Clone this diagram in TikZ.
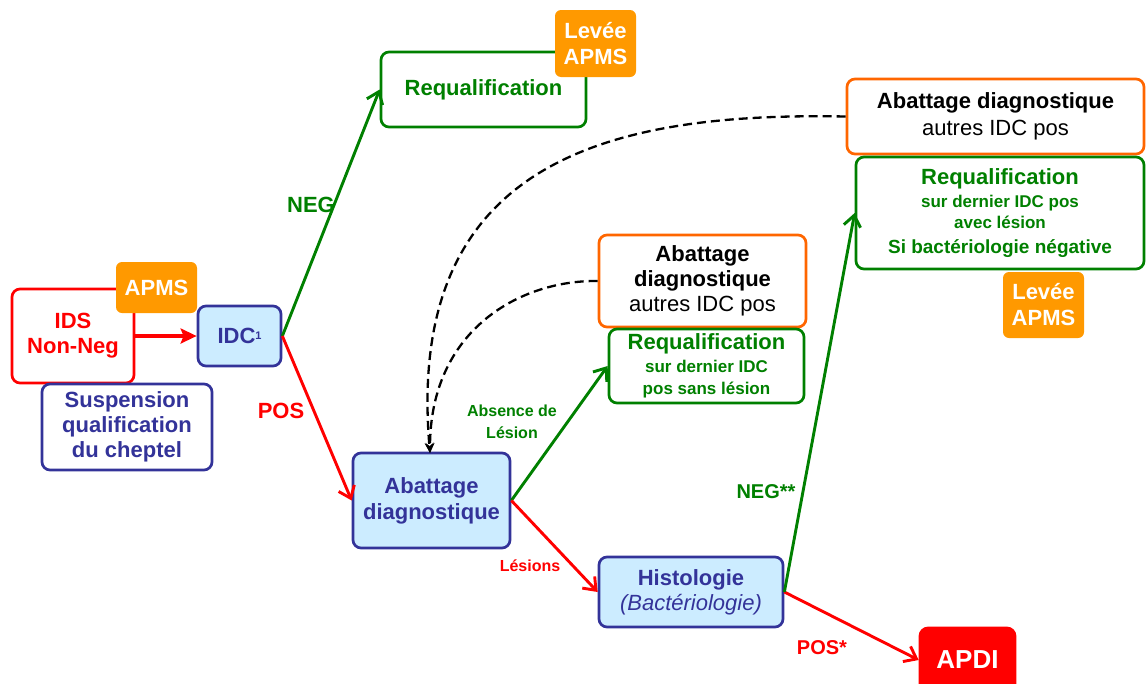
\documentclass[tikz,border=0pt]{standalone}
\usepackage{fontspec}
\setmainfont{Liberation Sans}
\usepackage{tikz}
\usetikzlibrary{arrows.meta}
\definecolor{grn}{HTML}{008000}
\definecolor{rd}{HTML}{FF0000}
\definecolor{blu}{HTML}{333399}
\definecolor{lblu}{HTML}{CCECFF}
\definecolor{org}{HTML}{FF9900}
\definecolor{orgline}{HTML}{FF6600}
\newcommand{\fbig}{\fontsize{22}{25}\selectfont}
\newcommand{\fsmall}{\fontsize{17}{20}\selectfont}
\newcommand{\fmid}{\fontsize{19}{22}\selectfont}

\begin{document}
\begin{tikzpicture}[
  x=1pt, y=-1pt,
  font=\bfseries\fbig,
  size/.style 2 args={minimum width=#1, minimum height=#2},
  box/.style={draw, rounded corners=8pt, line width=2.7pt, align=center, inner sep=0pt, fill=white},
  bluebox/.style={box, draw=blu, fill=lblu, text=blu},
  greenbox/.style={box, draw=grn, text=grn},
  orgbox/.style={box, draw=orgline, text=black},
  tag/.style={fill=org, rounded corners=6pt, text=white, align=center, inner sep=0pt},
  arr/.style={line width=2.9pt, -{Straight Barb[length=11pt, width=17pt, line width=2.9pt]}},
  backarr/.style={line width=2.3pt, dash pattern=on 9pt off 5pt, -{Stealth[length=10pt, width=9pt]}},
  lab/.style={align=center, inner sep=1pt},
]
\useasboundingbox (0,0) rectangle (1146,683);
% left part
\node[box, draw=rd, text=rd, size={122}{94}] (ids) at (73,336) {IDS\\Non-Neg};
\node[tag, size={81}{51}] (apms) at (156.5,287.5) {APMS};
\node[box, draw=blu, text=blu, size={170}{86}] (susp) at (127,427) {Suspension\\qualification\\du cheptel};
\node[bluebox, size={83}{60}] (idc) at (239.5,336) {IDC\raisebox{4pt}{\fontsize{11}{11}\selectfont 1}};
\draw[rd, line width=4pt, -{Stealth[length=16pt, width=15pt, inset=3pt]}] (ids) -- (idc);
% first test
\node[greenbox, size={205}{75}] (req1) at (483.5,89.5) {Requalification};
\node[tag, size={81}{67}] (lev1) at (595.5,43.5) {Lev\'ee\\[1pt]APMS};
\node[bluebox, size={157}{95}] (abd) at (431.5,500.5) {Abattage\\[1pt]diagnostique};
\draw[arr, grn] (idc.east) -- (req1.west);
\draw[arr, rd] (idc.east) -- (abd.west);
\node[lab, text=grn] (negA) at (311,205) {NEG};
\node[lab, text=rd] (posA) at (281,411) {POS};
% slaughter
\node[orgbox, size={207}{92}] (abo1) at (702.5,281) {Abattage\\diagnostique\\\mdseries autres IDC pos};
\node[greenbox, size={195}{74}] (req2) at (706.5,366) {Requalification\\[-2pt]\fsmall sur dernier IDC\\[-3pt]\fsmall pos sans l\'esion};
\node[bluebox, size={184}{70}] (histo) at (691,592) {Histologie\\\mdseries\itshape (Bact\'eriologie)};
\draw[arr, grn] (abd.east) -- (req2.west);
\draw[arr, rd] (abd.east) -- (histo.west);
\node[lab, text=grn, font=\bfseries\fontsize{16}{22}\selectfont] (abs) at (512,422) {Absence de\\L\'esion};
\node[lab, text=rd, font=\bfseries\fontsize{16}{20}\selectfont] (les) at (530,566) {L\'esions};
% histology
\node[box, draw=rd, fill=rd, text=white, size={95}{64}, font=\bfseries\fontsize{26}{28}\selectfont] (apdi) at (967.5,660) {APDI};
\node[orgbox, size={297}{75}] (abo2) at (995.5,116.5) {Abattage diagnostique\\[2pt]\mdseries autres IDC pos};
\node[greenbox, size={288}{112}] (req3) at (1000,213) {Requalification\\[-2pt]\fsmall sur dernier IDC pos\\[-4pt]\fsmall avec l\'esion\\[0pt]\fmid Si bact\'eriologie n\'egative};
\node[tag, size={81}{66}] (lev2) at (1043.5,305) {Lev\'ee\\[1pt]APMS};
\draw[arr, rd] (histo.east) -- (apdi.west);
\draw[arr, grn] (histo.east) -- (req3.west);
\node[lab, text=rd, font=\bfseries\fontsize{20}{22}\selectfont] (posB) at (822,648) {POS*};
\node[lab, text=grn, font=\bfseries\fontsize{20}{22}\selectfont] (negB) at (766,492) {NEG**};
% back to slaughter
\coordinate (top) at (430,453);
\draw[backarr] (abo1.west) .. controls (520,280) and (430,330) .. (top);
\draw[backarr] (abo2.west) .. controls (610,112) and (405,160) .. (top);
\end{tikzpicture}
\end{document}
